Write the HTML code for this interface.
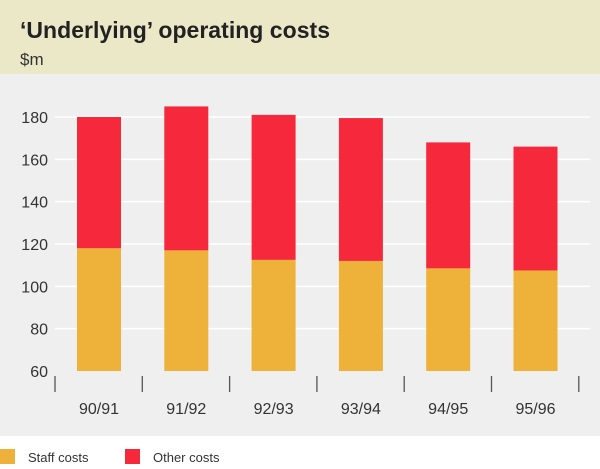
<!DOCTYPE html>
<html><head><meta charset="utf-8"><style>
body{margin:0;width:600px;height:464px;overflow:hidden;background:#fff;font-family:"Liberation Sans",sans-serif}
</style></head><body>
<svg width="600" height="464">
<rect x="0" y="0" width="600" height="74" fill="#ebe8c8"/>
<rect x="0" y="74" width="600" height="362" fill="#efefef"/>
<text x="20" y="38" font-size="23" font-weight="bold" fill="#222" textLength="310">‘Underlying’ operating costs</text>
<text x="20" y="65" font-size="17" fill="#333">$m</text>
<g id="grid"></g><g id="bars"></g><g id="axis"></g>
<rect x="0" y="449" width="15" height="15" fill="#eeb23a"/>
<text x="28" y="462" font-size="13" fill="#333">Staff costs</text>
<rect x="125" y="449" width="15" height="15" fill="#f5283c"/>
<text x="153" y="462" font-size="13" fill="#333">Other costs</text>
</svg>
<script>
const categories=["90/91","91/92","92/93","93/94","94/95","95/96"];
const staffCosts=[118,117,112.5,112,108.5,107.5];
const totalCosts=[180,185,181,179.5,168,166];
const yTicks=[60,80,100,120,140,160,180];
const NS="http://www.w3.org/2000/svg";
const y=v=>371-(v-60)*(254/120);
const x0=55,step=87.3,bw=44;
function mk(t,a,p){const e=document.createElementNS(NS,t);for(const k in a)e.setAttribute(k,a[k]);p.appendChild(e);return e;}
const g=document.getElementById('grid'),b=document.getElementById('bars'),ax=document.getElementById('axis');
yTicks.forEach(v=>{
 if(v>60){const l=mk('line',{x1:55,x2:590,y1:y(v),y2:y(v),stroke:'#fff','stroke-width':1.5},g);
 
 }
 const t=mk('text',{x:48,y:y(v)+6,'text-anchor':'end','font-size':16,fill:'#333'},ax);t.textContent=v;
 
 
});
for(let i=0;i<=categories.length;i++){
 const tk=mk('line',{x1:x0+step*i,x2:x0+step*i,y1:376,y2:392,stroke:'#555','stroke-width':1.3},ax);
 
 
}
categories.forEach((c,i)=>{
 const bx=x0+step*i+22;
 const s=mk('rect',{x:bx,y:y(staffCosts[i]),width:bw,height:y(60)-y(staffCosts[i]),fill:'#eeb23a'},b);
 
 
 const o=mk('rect',{x:bx,y:y(totalCosts[i]),width:bw,height:y(staffCosts[i])-y(totalCosts[i]),fill:'#f5283c'},b);
 
 
 const t=mk('text',{x:bx+bw/2,y:414,'text-anchor':'middle','font-size':16,fill:'#333'},ax);t.textContent=c;
 
 
});
</script>
</body></html>
